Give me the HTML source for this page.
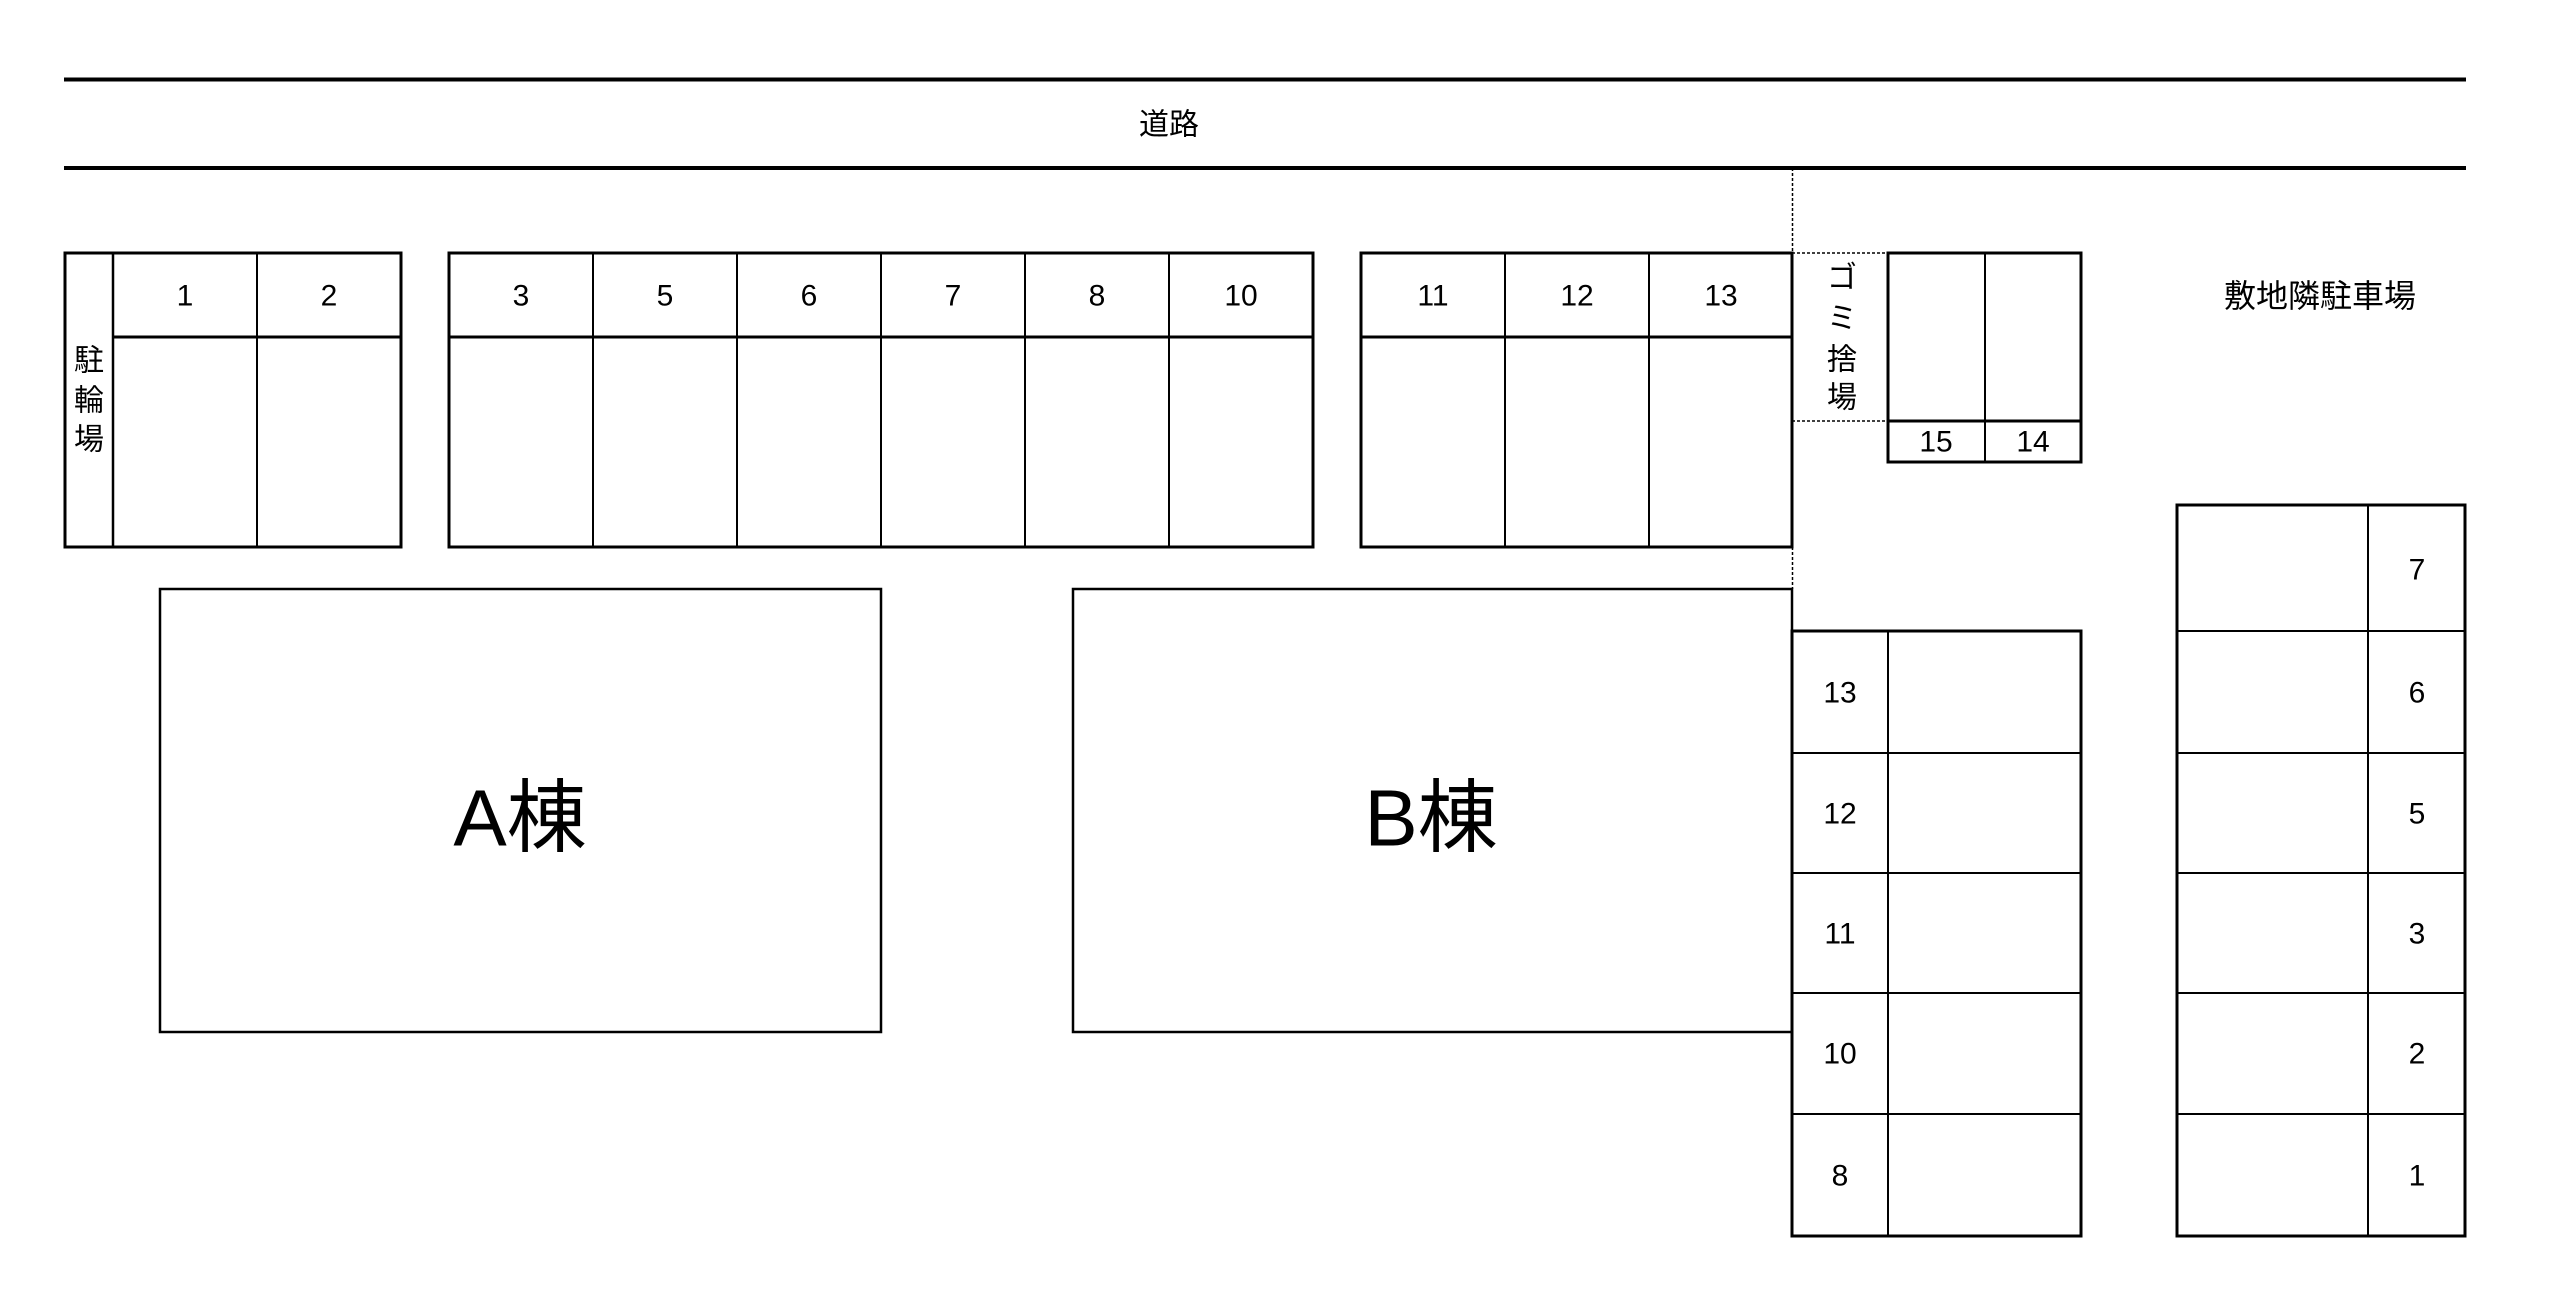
<!DOCTYPE html>
<html><head><meta charset="utf-8"><style>
html,body{margin:0;padding:0;background:#fff;}
svg{display:block;}
text{font-family:"Liberation Sans","Noto Sans CJK JP",sans-serif;fill:#000;}
</style></head><body>
<svg width="2550" height="1312" viewBox="0 0 2550 1312" xmlns="http://www.w3.org/2000/svg">
<g stroke="#000" fill="none">
<line x1="64" y1="79.5" x2="2466" y2="79.5" stroke-width="4"/>
<line x1="64" y1="168" x2="2466" y2="168" stroke-width="4"/>
<!-- bicycle + 1,2 -->
<rect x="65" y="253" width="336" height="294" stroke-width="3"/>
<line x1="113" y1="253" x2="113" y2="547" stroke-width="2.5"/>
<line x1="257" y1="253" x2="257" y2="547" stroke-width="2"/>
<line x1="113" y1="337" x2="401" y2="337" stroke-width="3"/>
<!-- 3-10 -->
<rect x="449" y="253" width="864" height="294" stroke-width="3"/>
<line x1="593" y1="253" x2="593" y2="547" stroke-width="2"/>
<line x1="737" y1="253" x2="737" y2="547" stroke-width="2"/>
<line x1="881" y1="253" x2="881" y2="547" stroke-width="2"/>
<line x1="1025" y1="253" x2="1025" y2="547" stroke-width="2"/>
<line x1="1169" y1="253" x2="1169" y2="547" stroke-width="2"/>
<line x1="449" y1="337" x2="1313" y2="337" stroke-width="3"/>
<!-- 11-13 -->
<rect x="1361" y="253" width="431" height="294" stroke-width="3"/>
<line x1="1505" y1="253" x2="1505" y2="547" stroke-width="2"/>
<line x1="1649" y1="253" x2="1649" y2="547" stroke-width="2"/>
<line x1="1361" y1="337" x2="1792" y2="337" stroke-width="3"/>
<!-- dashed -->
<line x1="1792.5" y1="168" x2="1792.5" y2="253" stroke-width="1.5" stroke-dasharray="3,2"/>
<line x1="1792.5" y1="547" x2="1792.5" y2="589" stroke-width="1.5" stroke-dasharray="3,2"/>
<line x1="1792" y1="253" x2="1888" y2="253" stroke-width="1.5" stroke-dasharray="3,2"/>
<line x1="1792" y1="421" x2="1888" y2="421" stroke-width="1.5" stroke-dasharray="3,2"/>
<!-- 15,14 -->
<rect x="1888" y="253" width="193" height="209" stroke-width="3"/>
<line x1="1985" y1="253" x2="1985" y2="462" stroke-width="2"/>
<line x1="1888" y1="421" x2="2081" y2="421" stroke-width="3"/>
<!-- buildings -->
<rect x="160" y="589" width="721" height="443" stroke-width="2.5"/>
<rect x="1073" y="589" width="719" height="443" stroke-width="2.5"/>
<!-- middle right group -->
<rect x="1792" y="631" width="289" height="605" stroke-width="3"/>
<line x1="1888" y1="631" x2="1888" y2="1236" stroke-width="2"/>
<line x1="1792" y1="753" x2="2081" y2="753" stroke-width="2"/>
<line x1="1792" y1="873" x2="2081" y2="873" stroke-width="2"/>
<line x1="1792" y1="993" x2="2081" y2="993" stroke-width="2"/>
<line x1="1792" y1="1114" x2="2081" y2="1114" stroke-width="2"/>
<!-- right group -->
<rect x="2177" y="505" width="288" height="731" stroke-width="3"/>
<line x1="2368" y1="505" x2="2368" y2="1236" stroke-width="2"/>
<line x1="2177" y1="631" x2="2465" y2="631" stroke-width="2"/>
<line x1="2177" y1="753" x2="2465" y2="753" stroke-width="2"/>
<line x1="2177" y1="873" x2="2465" y2="873" stroke-width="2"/>
<line x1="2177" y1="993" x2="2465" y2="993" stroke-width="2"/>
<line x1="2177" y1="1114" x2="2465" y2="1114" stroke-width="2"/>
</g>
<g font-size="30" text-anchor="middle" dominant-baseline="central">
<text x="1169" y="125">道路</text>
<text x="185" y="296">1</text><text x="329" y="296">2</text>
<text x="521" y="296">3</text><text x="665" y="296">5</text><text x="809" y="296">6</text>
<text x="953" y="296">7</text><text x="1097" y="296">8</text><text x="1241" y="296">10</text>
<text x="1433" y="296">11</text><text x="1577" y="296">12</text><text x="1721" y="296">13</text>
<text x="89" y="361">駐</text><text x="89" y="401">輪</text><text x="89" y="440">場</text>
<text x="1842" y="278">ゴ</text><text x="1842" y="319">ミ</text><text x="1842" y="360">捨</text><text x="1842" y="398">場</text>
<text x="1936" y="442">15</text><text x="2033" y="442">14</text>
<text x="2320" y="296" font-size="32">敷地隣駐車場</text>
<text x="1840" y="693">13</text><text x="1840" y="814">12</text><text x="1840" y="934">11</text>
<text x="1840" y="1054">10</text><text x="1840" y="1176">8</text>
<text x="2417" y="570">7</text><text x="2417" y="693">6</text><text x="2417" y="814">5</text>
<text x="2417" y="934">3</text><text x="2417" y="1054">2</text><text x="2417" y="1176">1</text>
<text x="520" y="818" font-size="80">A棟</text>
<text x="1431" y="818" font-size="80">B棟</text>
</g>
</svg>
</body></html>
